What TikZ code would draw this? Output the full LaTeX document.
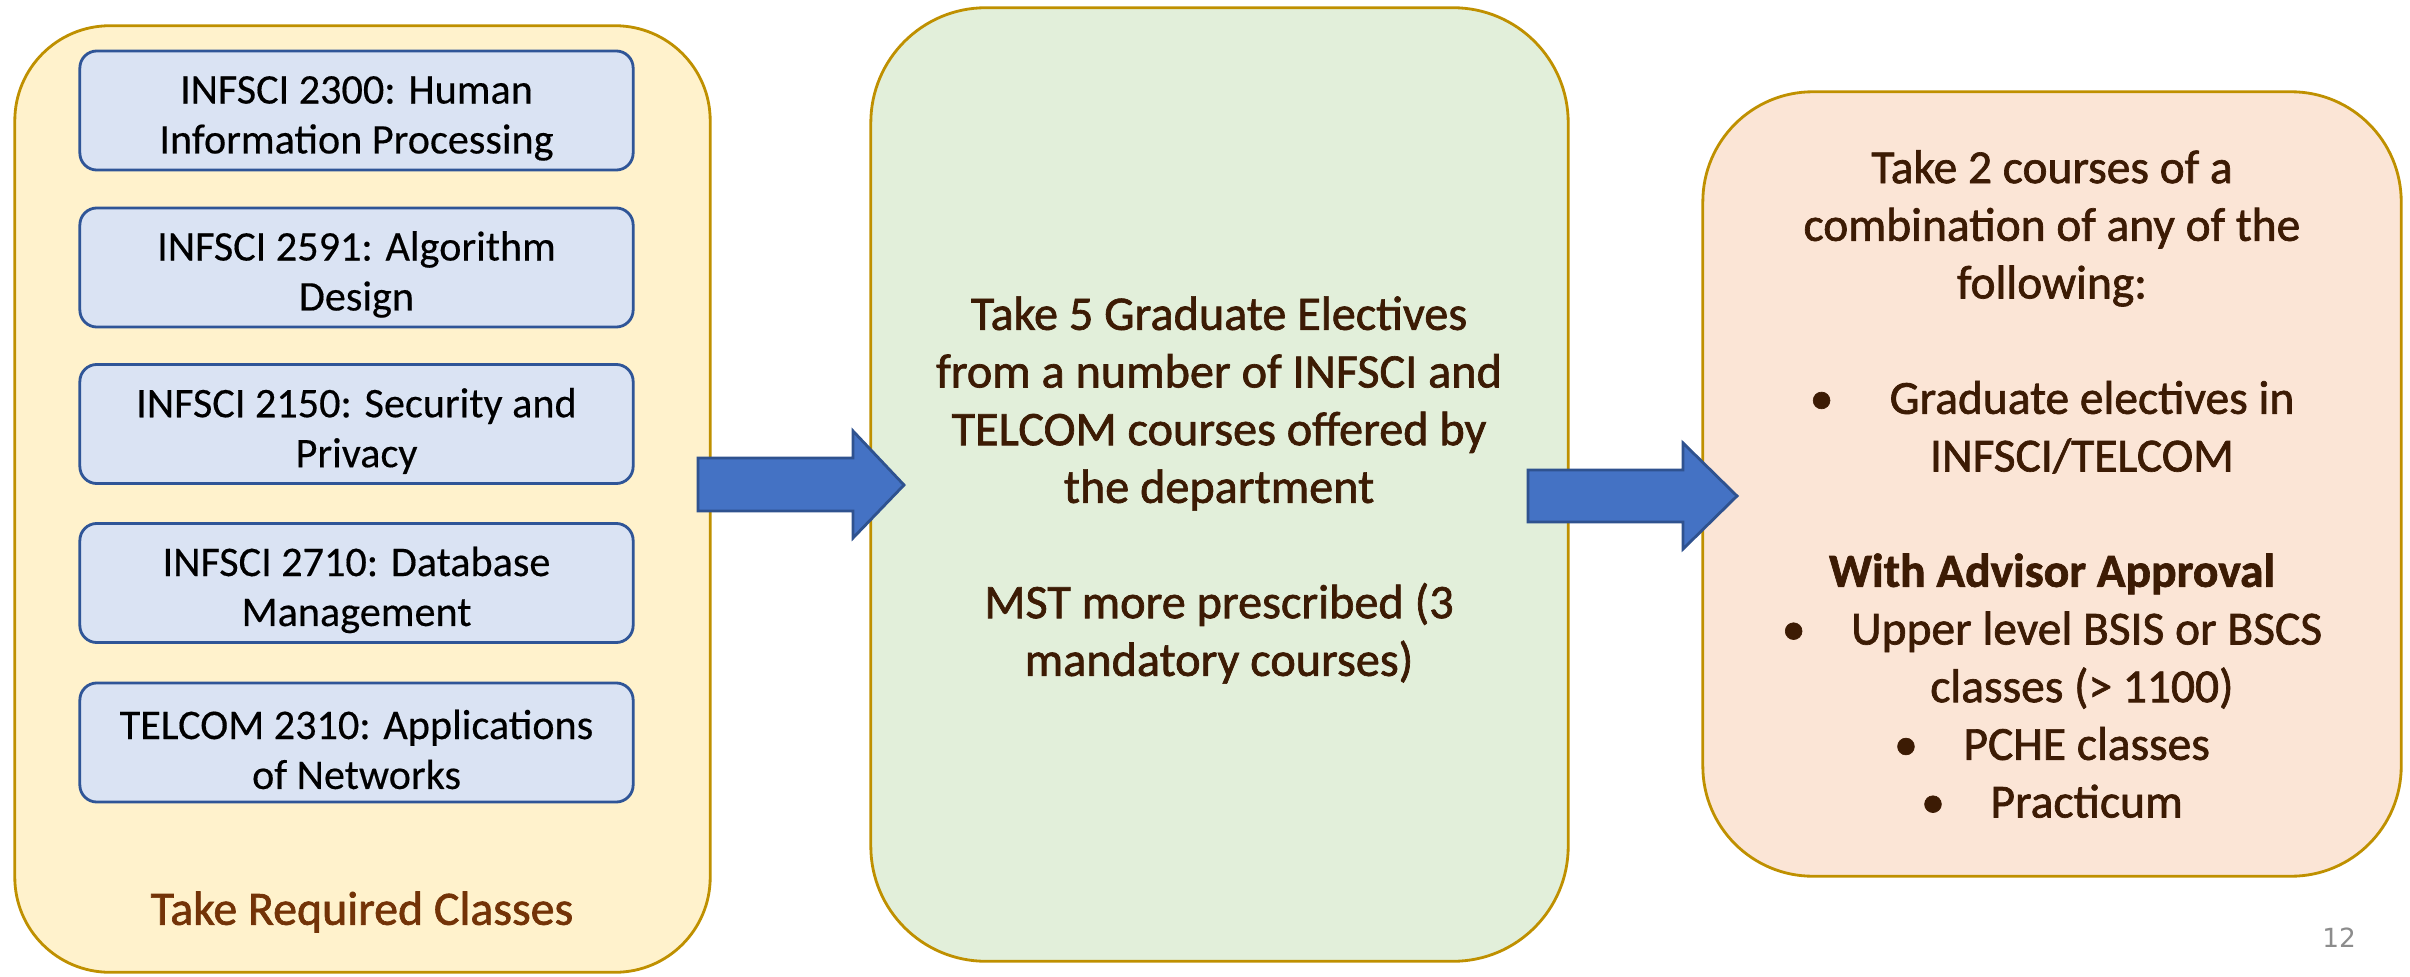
\documentclass[tikz,border=0pt]{standalone}
\usepackage{fontspec}
\setmainfont{Carlito}
\newfontfamily\outl[FakeBold=1.4]{Carlito}
\newfontfamily\crs[FakeBold=0.35]{Carlito}
\newfontfamily\pgfnt{DejaVu Sans}
\newcommand\topstrut{\rule{0pt}{12.3pt}}
\definecolor{leftfill}{HTML}{FFF2CC}
\definecolor{goldline}{HTML}{BF9000}
\definecolor{innerfill}{HTML}{DAE3F3}
\definecolor{innerline}{HTML}{2F5597}
\definecolor{midfill}{HTML}{E2EFDA}
\definecolor{rightfill}{HTML}{FBE5D6}
\definecolor{arrowfill}{HTML}{4472C4}
\definecolor{arrowline}{HTML}{2F528F}
\definecolor{browntext}{HTML}{3C1B04}
\definecolor{labeltext}{HTML}{733307}
\definecolor{pagenum}{HTML}{8C8C8C}
\begin{document}
\begin{tikzpicture}[x=0.01cm,y=-0.01cm,
  bigbox/.style={draw=goldline, line width=0.8pt, inner sep=0pt},
  course/.style={draw=innerline, line width=0.8pt, fill=innerfill, rounded corners=0.17cm,
    minimum width=5.53cm, minimum height=1.19cm, align=center, inner sep=0pt,
    font=\crs\fontsize{12}{14.2}\selectfont, text=black},
  bodytext/.style={align=center, text=browntext, inner sep=0pt,
    font=\outl\fontsize{13.5}{16.4}\selectfont},
  blockarrow/.style={fill=arrowfill, draw=arrowline, line width=0.8pt, line join=miter}
]
\useasboundingbox (0,0) rectangle (2410,976);

% left column
\node[bigbox, fill=leftfill, rounded corners=0.95cm, minimum width=6.95cm, minimum height=9.46cm] (left) at (362.5,499) {};
\node[course] (c1) at (356.5,110.5) {\topstrut INFSCI 2300: Human\\Information Processing};
\node[course] (c2) at (356.5,267.5) {\topstrut INFSCI 2591: Algorithm\\Design};
\node[course] (c3) at (356.5,424) {\topstrut INFSCI 2150: Security and\\Privacy};
\node[course] (c4) at (356.5,583) {\topstrut INFSCI 2710: Database\\Management};
\node[course] (c5) at (356.5,742.5) {\topstrut TELCOM 2310: Applications\\of Networks};
\node[text=labeltext, inner sep=0pt, font=\outl\fontsize{13.6}{16}\selectfont] (req) at (362,912) {Take Required Classes};

% middle box
\node[bigbox, fill=midfill, rounded corners=1.15cm, minimum width=6.97cm, minimum height=9.53cm] (mid) at (1219.5,484.5) {};
\node[bodytext, font=\outl\fontsize{13.7}{16.4}\selectfont] (midtext) at (1219,490) {Take 5 Graduate Electives\\from a number of INFSCI and\\TELCOM courses offered by\\the department\\~\\MST more prescribed (3\\mandatory courses)};

% right box
\node[bigbox, fill=rightfill, rounded corners=1.1cm, minimum width=6.98cm, minimum height=7.84cm] (right) at (2052,484) {};
\node[bodytext] (righttext) at (2052,484) {Take 2 courses of a\\combination of any of the\\following:\\~\\\textbullet\hspace{16pt}Graduate electives in\\\hspace*{17pt}INFSCI/TELCOM\\~\\\textbf{With Advisor Approval}\\\textbullet\hspace{13pt}Upper level BSIS or BSCS\\\hspace*{17pt}classes (> 1100)\\\textbullet\hspace{13pt}PCHE classes\\\textbullet\hspace{13pt}Practicum};

% block arrows
\draw[blockarrow] (698,458) -- (853,458) -- (853,431) -- (904,485) -- (853,538) -- (853,511) -- (698,511) -- cycle;
\draw[blockarrow] (1528,470) -- (1683,470) -- (1683,443) -- (1737,496) -- (1683,549) -- (1683,522) -- (1528,522) -- cycle;

% page number
\node[text=pagenum, inner sep=0pt, font=\pgfnt\fontsize{7.5}{9}\selectfont] (pg) at (2339,938) {12};
\end{tikzpicture}
\end{document}
